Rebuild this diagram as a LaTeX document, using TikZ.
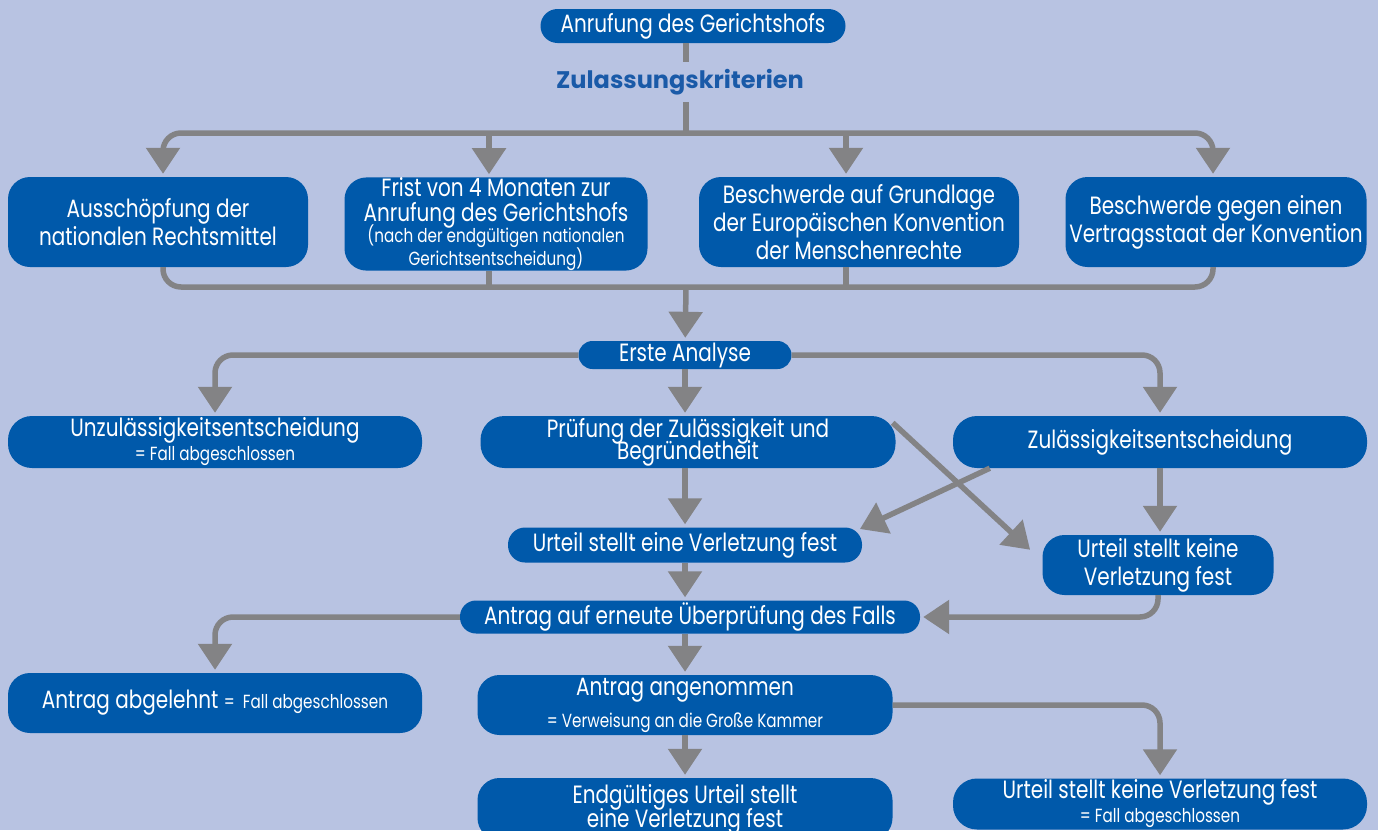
\documentclass[tikz,border=0pt]{standalone}
\usepackage{fontspec}
\setmainfont{Poppins}[FakeStretch=0.8]
\newfontfamily\kritfont{Poppins}
\usetikzlibrary{arrows.meta}
\definecolor{bgblue}{HTML}{B8C3E2}
\definecolor{boxblue}{HTML}{0059AA}
\definecolor{linegray}{HTML}{838385}
\definecolor{titleblue}{HTML}{1A5AA8}
\newcommand{\smalltxt}{\fontsize{19}{21}\selectfont}
\begin{document}
\begin{tikzpicture}[x=1pt, y=-1pt,
        box/.style={fill=boxblue, text=white, rounded corners=22pt, align=center,
            inner sep=0pt, font=\fontsize{25}{28}\selectfont},
        pill/.style={box, rounded corners=16pt},
        line/.style={draw=linegray, line width=5.5pt},
        arrow/.style={line, shorten >=3pt, -{Triangle[width=33pt,length=26pt]}}
    ]
    \clip (0,0) rectangle (1378,830);
    \fill[bgblue] (0,0) rectangle (1378,830);
    % Nodes
    \node[pill, minimum width=305, minimum height=34, rounded corners=17pt] (anruf) at (693,26) {Anrufung des Gerichtshofs};
    \node[text=titleblue, inner ysep=7pt, font=\kritfont\bfseries\fontsize{24}{28}\selectfont] (krit) at (680,82) {Zulassungskriterien};
    \node[box, minimum width=300, minimum height=90] (ausch) at (158,222) {Ausschöpfung der\\nationalen Rechtsmittel};
    \node[box, minimum width=303, minimum height=90] (frist) at (496,224) {Frist von 4 Monaten zur\\[-3pt]Anrufung des Gerichtshofs\\[-7pt]{\smalltxt (nach der endgültigen nationalen}\\[-5pt]{\smalltxt Gerichtsentscheidung)}};
    \node[box, minimum width=320, minimum height=90] (grund) at (859,222) {Beschwerde auf Grundlage\\der Europäischen Konvention\\der Menschenrechte};
    \node[box, minimum width=301, minimum height=90] (vertrag) at (1216,222) {Beschwerde gegen einen\\Vertragsstaat der Konvention};
    \node[pill, minimum width=213, minimum height=28, rounded corners=14pt] (erste) at (685,355) {Erste Analyse};
    \node[box, minimum width=414, minimum height=52, rounded corners=24pt] (unzul) at (215,442) {Unzulässigkeitsentscheidung\\[-4pt]{\smalltxt = Fall abgeschlossen}};
    \node[box, minimum width=415, minimum height=52, rounded corners=24pt] (pruef) at (688,442) {Prüfung der Zulässigkeit und\\[-6pt]Begründetheit};
    \node[box, minimum width=414, minimum height=52, rounded corners=24pt] (zulent) at (1160,442) {Zulässigkeitsentscheidung};
    \node[pill, minimum width=354, minimum height=35, rounded corners=17pt] (eine) at (685,545) {Urteil stellt eine Verletzung fest};
    \node[box, minimum width=231, minimum height=60] (keine) at (1158,565) {Urteil stellt keine\\Verletzung fest};
    \node[pill, minimum width=460, minimum height=33] (antrag) at (690,617) {Antrag auf erneute Überprüfung des Falls};
    \node[box, minimum width=414, minimum height=60] (abgel) at (215,703) {Antrag abgelehnt {\smalltxt =\ \ Fall abgeschlossen}};
    \node[box, minimum width=415, minimum height=60] (angen) at (685,705) {Antrag angenommen\\[4pt]{\smalltxt = Verweisung an die Große Kammer}};
    \node[box, minimum width=415, minimum height=62] (endg) at (685,809) {Endgültiges Urteil stellt\\[-4pt]eine Verletzung fest};
    \node[box, minimum width=414, minimum height=51, rounded corners=24pt] (keinezwei) at (1160,804) {Urteil stellt keine Verletzung fest\\[-4pt]{\smalltxt = Fall abgeschlossen}};
    \coordinate (split) at (686,133);
    \coordinate (join) at (686,287);
    % Edges
    \draw[line] (anruf.south -| split) -- (krit.north -| split);
    \draw[line] (krit.south -| split) -- (split);
    \draw[arrow, rounded corners=18pt] (split) -| ([xshift=5pt]ausch.north);
    \draw[arrow, rounded corners=18pt] (split) -| ([xshift=-3pt]vertrag.north);
    \draw[arrow] ([xshift=-7pt]frist.north |- split) -- ([xshift=-7pt]frist.north);
    \draw[arrow] ([xshift=-13pt]grund.north |- split) -- ([xshift=-13pt]grund.north);
    \draw[line, rounded corners=18pt] ([xshift=5pt]ausch.south) |- (join) -| ([xshift=-3pt]vertrag.south);
    \draw[line] ([xshift=-7pt]frist.south) -- ([xshift=-7pt]frist.south |- join);
    \draw[line] ([xshift=-13pt]grund.south) -- ([xshift=-13pt]grund.south |- join);
    \draw[arrow] (join) -- (erste);
    \draw[arrow, rounded corners=18pt] (erste) -| (unzul);
    \draw[arrow, rounded corners=18pt] (erste) -| (zulent);
    \draw[arrow] (erste) -- (erste |- pruef.north);
    \draw[arrow] ([xshift=-3pt,yshift=-7pt]pruef.north east) -- ([xshift=-10pt,yshift=-17pt]keine.north west);
    \draw[arrow] ([xshift=37pt]zulent.south west) -- ([xshift=-5pt,yshift=-3pt]eine.north east);
    \draw[arrow] (zulent) -- (zulent |- keine.north);
    \draw[arrow] (eine |- pruef.south) -- (eine);
    \draw[arrow] (eine) -- (eine |- antrag.north);
    \draw[arrow, rounded corners=18pt] (keine) |- (antrag);
    \draw[arrow, rounded corners=18pt] (antrag) -| (abgel);
    \draw[arrow] (angen |- antrag.south) -- (angen);
    \draw[arrow, rounded corners=18pt] (angen) -| (keinezwei);
    \draw[arrow] (angen) -- (endg);
\end{tikzpicture}
\end{document}
